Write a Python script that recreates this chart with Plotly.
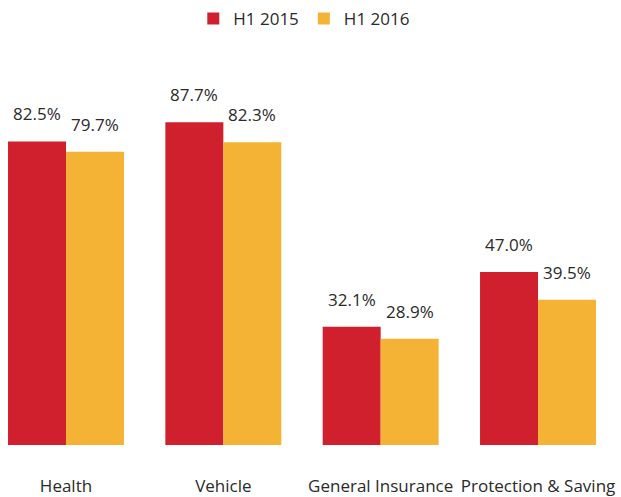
import plotly.graph_objects as go

categories = ["Health", "Vehicle", "General Insurance", "Protection & Saving"]
series_names = ["H1 2015", "H1 2016"]
values_2015 = [82.5, 87.7, 32.1, 47.0]
values_2016 = [79.7, 82.3, 28.9, 39.5]
colors = ["#D0202E", "#F5B335"]

FONT = "Open Sans"
TXT = "#2a2a2a"
BARGAP = 0.263

fig = go.Figure()
for name, vals, col in zip(series_names, [values_2015, values_2016], colors):
    fig.add_trace(go.Bar(
        x=categories, y=vals, name=name,
        marker=dict(color=col, line=dict(width=0)),
    ))

# value labels above each bar, positioned through the category axis
half = (1 - BARGAP) / 4
for s, vals in enumerate([values_2015, values_2016]):
    off = -half if s == 0 else half
    for i, v in enumerate(vals):
        fig.add_annotation(
            x=i + off, y=v, xref="x", yref="y",
            text=f"{v:.1f}%", showarrow=False,
            xanchor="center", yanchor="bottom", yshift=14,
            font=dict(family=FONT, size=17, color=TXT),
        )

fig.update_layout(
    width=621, height=497,
    margin=dict(l=0, r=0, t=77, b=52),
    paper_bgcolor="white", plot_bgcolor="white",
    barmode="group", bargap=BARGAP, bargroupgap=0,
    font=dict(family=FONT, size=17, color=TXT),
    showlegend=True,
    legend=dict(orientation="h", x=0.49, xanchor="center", y=1.158, yanchor="middle",
                font=dict(family=FONT, size=17, color=TXT), traceorder="normal"),
    xaxis=dict(range=[-0.4195, 3.5275], showgrid=False, showline=False, zeroline=False,
               ticks="outside", ticklen=26, tickcolor="rgba(0,0,0,0)",
               tickfont=dict(family=FONT, size=17, color=TXT)),
    yaxis=dict(range=[0, 100], visible=False, showgrid=False, zeroline=False),
)

fig.write_html("out.html", config={"displayModeBar": False},
               post_script="document.body.style.margin='0';")
